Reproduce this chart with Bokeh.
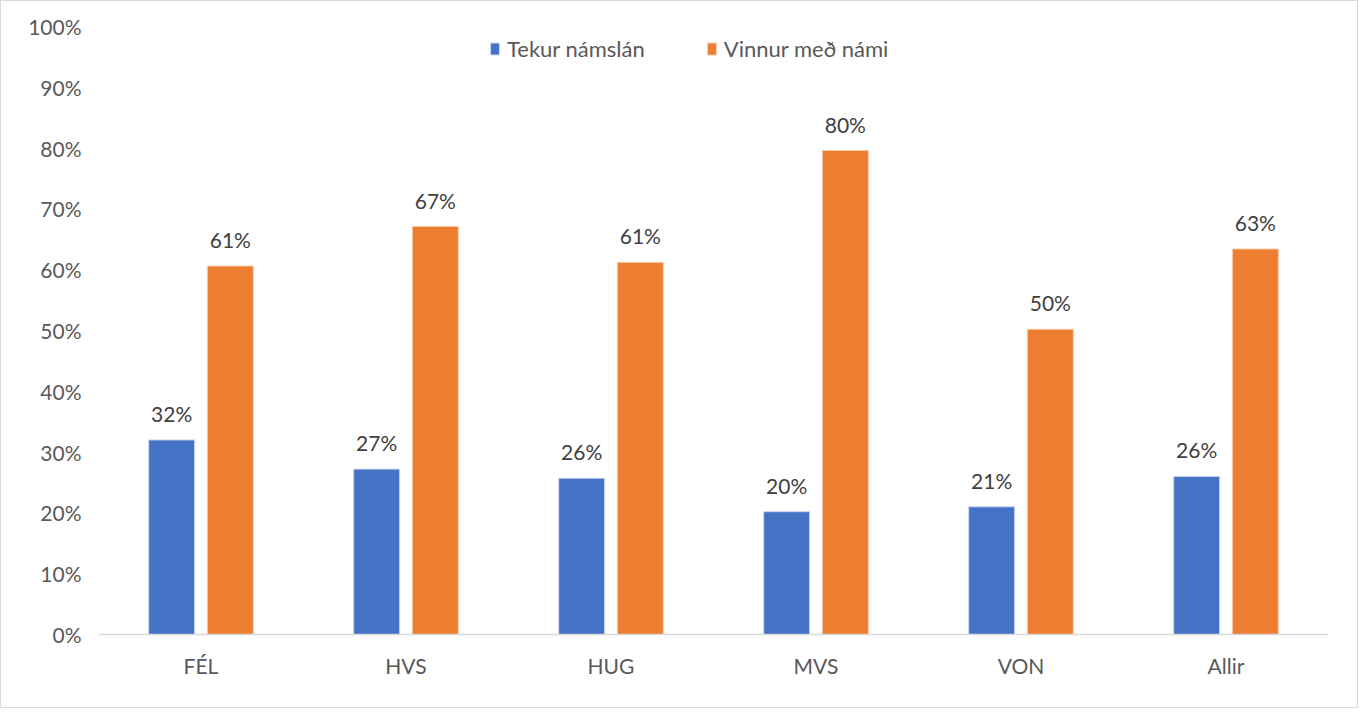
from bokeh.plotting import figure
from bokeh.models import (ColumnDataSource, FactorRange, Range1d, FixedTicker,
                          NumeralTickFormatter, Legend, LegendItem)
from bokeh.transform import dodge
from bokeh.core.properties import value
from bokeh.embed import file_html
from bokeh.resources import INLINE

categories = ["FÉL", "HVS", "HUG", "MVS", "VON", "Allir"]
tekur_namslan = [0.32, 0.272, 0.257, 0.202, 0.21, 0.26]
vinnur_med_nami = [0.606, 0.671, 0.612, 0.796, 0.502, 0.634]
series_names = ["Tekur námslán", "Vinnur með námi"]
y_ticks = [i / 10 for i in range(11)]

src = ColumnDataSource(dict(
    cat=categories,
    a=tekur_namslan,
    b=vinnur_med_nami,
    a_lbl=[f"{round(v*100):.0f}%" for v in tekur_namslan],
    b_lbl=[f"{round(v*100):.0f}%" for v in vinnur_med_nami],
))

FONT = "Lato"
p = figure(width=1358, height=708, x_range=FactorRange(*categories),
           y_range=Range1d(0, 1), output_backend="svg", toolbar_location=None,
           min_border_left=97, min_border_right=31, min_border_top=25,
           min_border_bottom=75)
p.styles = {"border": "1px solid #d9d9d9"}
p.outline_line_color = None
p.xgrid.grid_line_color = None
p.ygrid.grid_line_color = None

blue = "#4472C4"
orange = "#ED7D31"
r1 = p.vbar(x=dodge("cat", -0.143, range=p.x_range), top="a", width=0.224,
            source=src, fill_color=blue, line_color="#c9d6ee", line_width=1)
r2 = p.vbar(x=dodge("cat", 0.143, range=p.x_range), top="b", width=0.224,
            source=src, fill_color=orange, line_color="#f7c9a8", line_width=1)

p.text(x=dodge("cat", -0.143, range=p.x_range), y="a", text="a_lbl", source=src,
       text_align="center", text_baseline="bottom", y_offset=-14,
       text_font=value(FONT), text_font_size="21px", text_color="#404040")
p.text(x=dodge("cat", 0.143, range=p.x_range), y="b", text="b_lbl", source=src,
       text_align="center", text_baseline="bottom", y_offset=-14,
       text_font=value(FONT), text_font_size="21px", text_color="#404040")

p.yaxis.ticker = FixedTicker(ticks=y_ticks)
p.yaxis.formatter = NumeralTickFormatter(format="0%")
p.yaxis.axis_line_color = None
p.yaxis.major_tick_line_color = None
p.yaxis.minor_tick_line_color = None
p.yaxis.major_label_text_font = FONT
p.yaxis.major_label_text_font_size = "21px"
p.yaxis.major_label_text_color = "#595959"
p.yaxis.major_label_standoff = 11

p.xaxis.axis_line_color = "#d9d9d9"
p.xaxis.axis_line_width = 1.5
p.xaxis.major_tick_line_color = None
p.xaxis.minor_tick_line_color = None
p.xaxis.major_label_text_font = FONT
p.xaxis.major_label_text_font_size = "21px"
p.xaxis.major_label_text_color = "#595959"
p.xaxis.major_label_standoff = 12

legend = Legend(items=[LegendItem(label=series_names[0], renderers=[r1]),
                       LegendItem(label=series_names[1], renderers=[r2])],
                orientation="horizontal", location=(391, 572),
                label_text_font=FONT, label_text_font_size="22px",
                label_text_color="#595959", glyph_width=11, glyph_height=15,
                label_standoff=7, spacing=61, border_line_color=None,
                background_fill_alpha=0, padding=4, margin=0)
p.add_layout(legend, "center")

open("out.html", "w").write(file_html(p, INLINE))
